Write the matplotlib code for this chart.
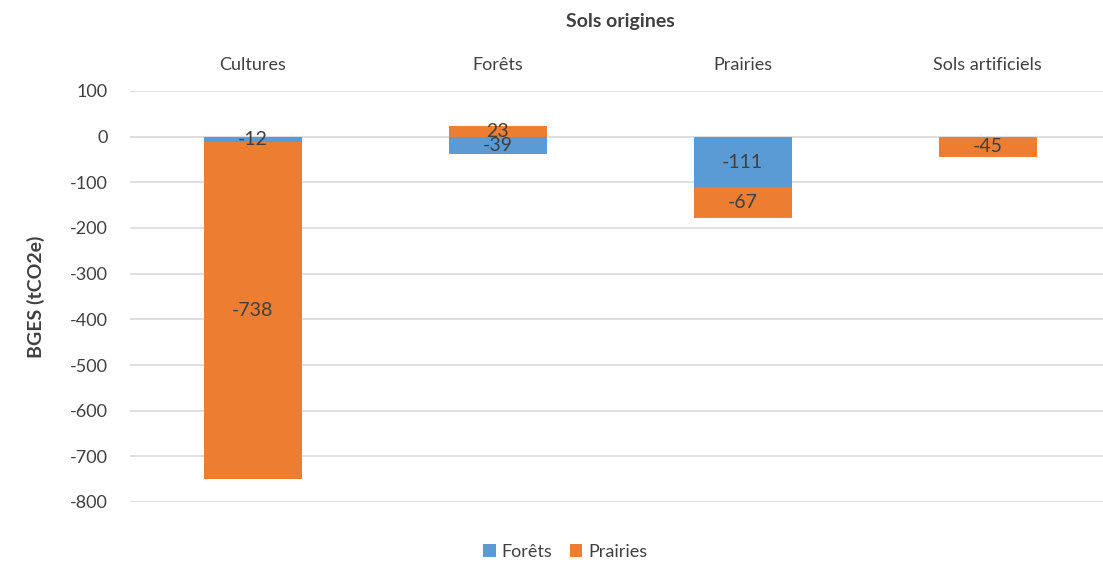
import numpy as np
import matplotlib.pyplot as plt

categories = ["Cultures", "Forêts", "Prairies", "Sols artificiels"]
forets = [-12, -39, -111, 0]
prairies = [-738, 23, -67, -45]
series_names = ["Forêts", "Prairies"]

BLUE = "#5B9BD5"
ORANGE = "#ED7D31"
TEXT = "#404040"

plt.rcParams["font.family"] = ["Lato", "DejaVu Sans"]
plt.rcParams["axes.unicode_minus"] = False

W, H = 1103, 563
fig = plt.figure(figsize=(W / 100, H / 100), dpi=100)
ax = fig.add_axes([130 / W, 1 - 502 / H, 980 / W, 411 / H])

x = np.arange(len(categories))
f = np.array(forets, dtype=float)
p = np.array(prairies, dtype=float)

# stack negatives below negatives, positives above positives
p_bottom = np.where((p < 0) & (f < 0), f, 0.0)

width = 0.4
ax.bar(x, f, width, color=BLUE, label=series_names[0], zorder=3)
ax.bar(x, p, width, bottom=p_bottom, color=ORANGE, label=series_names[1], zorder=3)

for i in range(len(categories)):
    if f[i] != 0:
        ax.text(x[i], f[i] / 2, f"{int(f[i])}", ha="center", va="center",
                fontsize=14, color=TEXT, zorder=4)
    if p[i] != 0:
        ax.text(x[i], p_bottom[i] + p[i] / 2, f"{int(p[i])}", ha="center",
                va="center", fontsize=14, color=TEXT, zorder=4)

ax.set_xlim(-0.5, len(categories) - 0.5)
ax.set_ylim(-800, 100)
ax.set_yticks(np.arange(-800, 101, 100))
ax.yaxis.grid(True, color="#D9D9D9", linewidth=1.2, zorder=0)
ax.tick_params(axis="y", length=0, labelsize=13, labelcolor=TEXT, pad=16)
ax.xaxis.tick_top()
ax.set_xticks(x)
ax.set_xticklabels(categories)
ax.tick_params(axis="x", length=0, labelsize=13, labelcolor=TEXT, pad=13)
for s in ax.spines.values():
    s.set_visible(False)

ax.set_ylabel("BGES (tCO2e)", fontsize=14, fontweight="bold", color=TEXT, labelpad=18)
fig.text(620 / W, 1 - 22 / H, "Sols origines", ha="center", va="center",
         fontsize=14, fontweight="bold", color=TEXT)

fig.legend(loc="center", bbox_to_anchor=(565 / W, 1 - 552 / H), ncol=2,
           frameon=False, fontsize=13, handlelength=0.7, handleheight=0.7,
           columnspacing=1.0, handletextpad=0.3, labelcolor=TEXT)

fig.savefig("out.png", dpi=100)
